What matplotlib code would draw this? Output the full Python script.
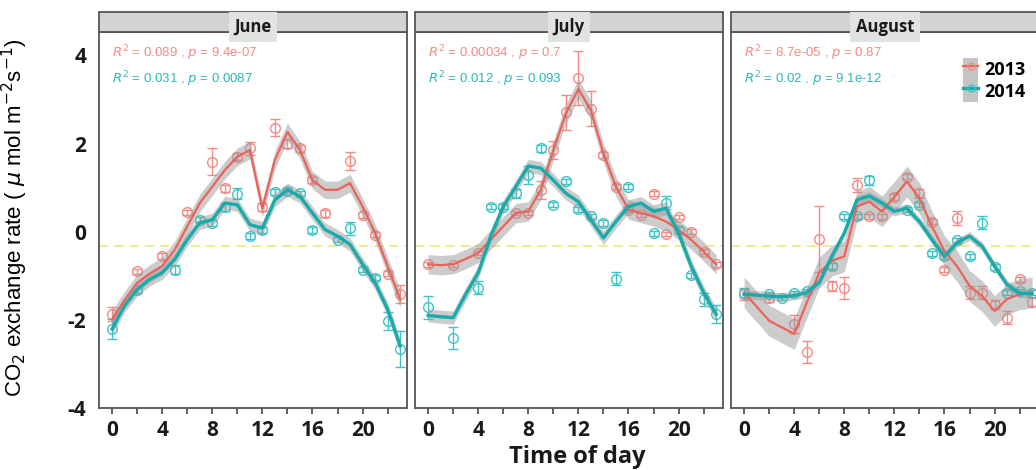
import numpy as np
import matplotlib
matplotlib.use("Agg")
import matplotlib.pyplot as plt
from matplotlib.patches import Rectangle, Patch
from matplotlib.lines import Line2D

plt.rcParams["axes.unicode_minus"] = False

months = ["June", "July", "August"]
years = ["2013", "2014"]
hours = list(range(24))

# fitted lines (hourly), per month and year
line_jun_13 = [-1.99, -1.55, -1.16, -0.95, -0.78, -0.41, 0.12, 0.65, 1.02, 1.40, 1.70, 1.85,
               0.53, 1.63, 2.26, 1.85, 1.17, 0.95, 0.95, 1.10, 0.57, -0.03, -0.78, -1.53]
line_jun_14 = [-2.21, -1.67, -1.31, -1.08, -0.93, -0.63, -0.18, 0.20, 0.27, 0.65, 0.61, 0.16,
               0.08, 0.72, 0.95, 0.80, 0.42, 0.05, -0.10, -0.29, -0.74, -1.16, -1.76, -2.59]
line_jul_13 = [-0.74, -0.76, -0.74, -0.62, -0.48, -0.18, 0.12, 0.42, 0.46, 0.95, 1.85, 2.68,
               3.24, 2.75, 1.78, 1.02, 0.50, 0.42, 0.35, 0.23, 0.04, -0.18, -0.45, -0.74]
line_jul_14 = [-1.90, -1.93, -1.95, -1.42, -0.93, -0.10, 0.57, 1.02, 1.49, 1.44, 1.17, 0.87,
               0.68, 0.27, -0.14, 0.23, 0.57, 0.65, 0.46, 0.53, -0.03, -0.78, -1.38, -1.87]
line_aug_13 = [-1.38, -1.70, -2.02, -2.17, -2.32, -1.61, -0.93, -0.66, -0.56, 0.57, 0.68, 0.46,
               0.79, 1.14, 0.76, 0.12, -0.44, -0.78, -1.23, -1.46, -1.80, -1.53, -1.42, -1.38]
line_aug_14 = [-1.42, -1.44, -1.46, -1.48, -1.45, -1.38, -1.15, -0.56, -0.03, 0.72, 0.81, 0.65,
               0.46, 0.53, 0.23, -0.18, -0.56, -0.25, -0.10, -0.33, -0.78, -1.20, -1.40, -1.40]

# confidence band half widths
band_jun = [0.2, 0.15]
band_jul = [0.22, 0.15]
band_aug = [0.35, 0.1]

# observed means with error bars
pt_jun_13_x = [0, 2, 4, 6, 8, 9, 10, 11, 12, 13, 14, 15, 16, 17, 19, 20, 21, 22, 23]
pt_jun_13_y = [-1.86, -0.9, -0.55, 0.44, 1.59, 0.99, 1.70, 1.89, 0.56, 2.36, 2.0, 1.89, 1.17,
               0.42, 1.61, 0.38, -0.07, -0.95, -1.42]
pt_jun_13_e = [0.16, 0.06, 0.06, 0.06, 0.3, 0.08, 0.08, 0.15, 0.1, 0.2, 0.1, 0.08, 0.06, 0.08,
               0.2, 0.06, 0.06, 0.06, 0.2]
pt_jun_14_x = [0, 2, 5, 7, 8, 9, 10, 11, 12, 13, 14, 15, 16, 18, 19, 20, 21, 22, 23]
pt_jun_14_y = [-2.21, -1.33, -0.86, 0.27, 0.2, 0.56, 0.86, -0.1, 0.04, 0.9, 0.92, 0.87, 0.04,
               -0.18, 0.08, -0.86, -1.04, -2.02, -2.66]
pt_jun_14_e = [0.23, 0.06, 0.1, 0.06, 0.06, 0.1, 0.12, 0.06, 0.06, 0.06, 0.06, 0.06, 0.06, 0.06,
               0.15, 0.06, 0.06, 0.2, 0.4]
pt_jul_13_x = [0, 2, 4, 7, 8, 9, 10, 11, 12, 13, 14, 15, 16, 17, 18, 19, 20, 21, 22, 23]
pt_jul_13_y = [-0.74, -0.76, -0.48, 0.43, 0.43, 0.95, 1.86, 2.71, 3.49, 2.79, 1.74, 1.02, 0.5,
               0.38, 0.86, -0.05, 0.33, 0.0, -0.45, -0.74]
pt_jul_13_e = [0.05, 0.05, 0.05, 0.05, 0.05, 0.2, 0.2, 0.4, 0.62, 0.4, 0.06, 0.06, 0.05, 0.05,
               0.06, 0.05, 0.05, 0.05, 0.05, 0.05]
pt_jul_14_x = [0, 2, 4, 5, 6, 7, 8, 9, 10, 11, 12, 13, 14, 15, 16, 18, 19, 20, 21, 22, 23]
pt_jul_14_y = [-1.72, -2.42, -1.27, 0.57, 0.57, 0.87, 1.29, 1.89, 0.61, 1.14, 0.51, 0.35, 0.2,
               -1.07, 1.02, -0.04, 0.66, 0.04, -0.99, -1.53, -1.87]
pt_jul_14_e = [0.25, 0.25, 0.15, 0.06, 0.06, 0.1, 0.2, 0.08, 0.06, 0.06, 0.06, 0.06, 0.06, 0.15,
               0.06, 0.06, 0.15, 0.06, 0.06, 0.15, 0.2]
pt_aug_13_x = [0, 2, 4, 5, 6, 7, 8, 9, 10, 11, 12, 13, 14, 15, 16, 17, 18, 19, 20, 21, 22, 23]
pt_aug_13_y = [-1.42, -1.5, -2.1, -2.74, -0.17, -1.23, -1.27, 1.06, 0.35, 0.35, 0.79, 1.25, 0.87,
               0.23, -0.86, 0.31, -1.38, -1.38, -1.66, -1.95, -1.08, -1.59]
pt_aug_13_e = [0.12, 0.1, 0.2, 0.25, 0.75, 0.12, 0.25, 0.15, 0.06, 0.06, 0.06, 0.06, 0.1, 0.06,
               0.06, 0.15, 0.15, 0.15, 0.1, 0.15, 0.06, 0.1]
pt_aug_14_x = [0, 2, 3, 4, 5, 7, 8, 9, 10, 13, 14, 15, 16, 17, 18, 19, 20, 21, 22, 23]
pt_aug_14_y = [-1.38, -1.42, -1.5, -1.4, -1.35, -0.78, 0.35, 0.35, 1.17, 0.5, 0.61, -0.49, -0.56,
               -0.2, -0.56, 0.2, -0.8, -1.38, -1.35, -1.38]
pt_aug_14_e = [0.1, 0.06, 0.06, 0.06, 0.06, 0.06, 0.06, 0.06, 0.1, 0.06, 0.06, 0.06, 0.06, 0.06,
               0.06, 0.15, 0.06, 0.06, 0.06, 0.06]

stats_text = [
    ["0.089", "9.4e-07", "0.031", "0.0087"],
    ["0.00034", "0.7", "0.012", "0.093"],
    ["8.7e-05", "0.87", "0.02", "9.1e-12"],
]
ref_level = -0.33

panels = [
    (line_jun_13, line_jun_14, band_jun,
     (pt_jun_13_x, pt_jun_13_y, pt_jun_13_e), (pt_jun_14_x, pt_jun_14_y, pt_jun_14_e)),
    (line_jul_13, line_jul_14, band_jul,
     (pt_jul_13_x, pt_jul_13_y, pt_jul_13_e), (pt_jul_14_x, pt_jul_14_y, pt_jul_14_e)),
    (line_aug_13, line_aug_14, band_aug,
     (pt_aug_13_x, pt_aug_13_y, pt_aug_13_e), (pt_aug_14_x, pt_aug_14_y, pt_aug_14_e)),
]

line_cols = ["#EC625B", "#17ABAD"]
pt_cols = ["#F48A84", "#3CC4C7"]
line_w = [1.6, 2.4]

W, H = 1036, 470
fig = plt.figure(figsize=(W / 100, H / 100), dpi=100)

lefts = [99, 415, 731]
pw = 308
top, bottom = 32, 408
strip_top = 12

for i, (l13, l14, band, p13, p14) in enumerate(panels):
    ax = fig.add_axes([lefts[i] / W, 1 - bottom / H, pw / W, (bottom - top) / H])
    ax.set_xlim(-1.05, 23.55)
    ax.set_ylim(-3.92, 4.53)

    ax.axhline(ref_level, color="#E8E86A", lw=1.1, ls=(0, (6, 4)), zorder=1)

    for k, (ln, pts) in enumerate([(l13, p13), (l14, p14)]):
        ln = np.array(ln)
        ax.fill_between(hours, ln - band[k], ln + band[k], color="#9a9a9a",
                        alpha=0.5, lw=0, zorder=3)
        ax.errorbar(pts[0], pts[1], yerr=pts[2], fmt="o", ms=7, mfc="none",
                    mec=pt_cols[k], mew=1.0, ecolor=pt_cols[k], elinewidth=1.0,
                    capsize=3.5, capthick=1.0, zorder=2)
        ax.plot(hours, ln, color=line_cols[k], lw=line_w[k], zorder=4)

    s = stats_text[i]
    ax.text(0, 4.04, r"$R^2$ = " + s[0] + r" , $p$ = " + s[1], color=pt_cols[0],
            fontsize=9.5, family="Liberation Sans", va="center", ha="left")
    ax.text(0, 3.45, r"$R^2$ = " + s[2] + r" , $p$ = " + s[3], color="#2FB5B8",
            fontsize=9.5, family="Liberation Sans", va="center", ha="left")

    ax.set_xticks(range(0, 24, 2))
    ax.set_xticklabels([str(h) if h % 4 == 0 else "" for h in range(0, 24, 2)])
    ax.tick_params(axis="x", length=4, width=1.2, color="#444444", pad=5,
                   labelsize=15)
    ax.set_yticks([-4, -2, 0, 2, 4])
    if i == 0:
        ax.tick_params(axis="y", length=0, pad=9, labelsize=15)
    else:
        ax.tick_params(axis="y", length=0, labelleft=False)
    for lab in ax.get_xticklabels() + ax.get_yticklabels():
        lab.set_family("Open Sans")
        lab.set_weight("bold")
        lab.set_color("#1a1a1a")
    for sp in ax.spines.values():
        sp.set_color("#555555")
        sp.set_linewidth(1.3)

    # facet strip
    fig.patches.append(Rectangle((lefts[i] / W, 1 - top / H), pw / W, (top - strip_top) / H,
                                 transform=fig.transFigure, facecolor="#d3d3d3",
                                 edgecolor="#555555", lw=1.3, zorder=1))
    fig.text((lefts[i] + pw / 2) / W, 1 - 27 / H, months[i], ha="center", va="center",
             fontsize=12, family="Open Sans", weight="bold", color="#1a1a1a",
             bbox=dict(boxstyle="square,pad=0.35", facecolor="#e2e2e2", edgecolor="none"),
             zorder=5)

    if i == 2:
        handles = [(Patch(facecolor="#c4c4c4", edgecolor="none"),
                    Line2D([], [], color=line_cols[k], lw=line_w[k], marker="o", ms=5,
                           mfc="none", mec=pt_cols[k]))
                   for k in range(2)]
        ax.legend(handles, years, loc="upper left", bbox_to_anchor=(0.725, 0.955),
                  frameon=False, handlelength=0.8, handleheight=1.5, labelspacing=0.0,
                  handletextpad=0.35, borderpad=0,
                  prop=dict(family="Open Sans", weight="bold", size=13))

fig.text(15 / W, 1 - 218 / H, r"CO$_2$ exchange rate ( $\mu$ mol m$^{-2}$s$^{-1}$)",
         rotation=90, ha="center", va="center", fontsize=16, family="Liberation Sans")
fig.text(577 / W, 1 - 457 / H, "Time of day", ha="center", va="center", fontsize=17,
         family="Open Sans", weight="bold", color="#1a1a1a")

fig.savefig("out.png", dpi=100)
